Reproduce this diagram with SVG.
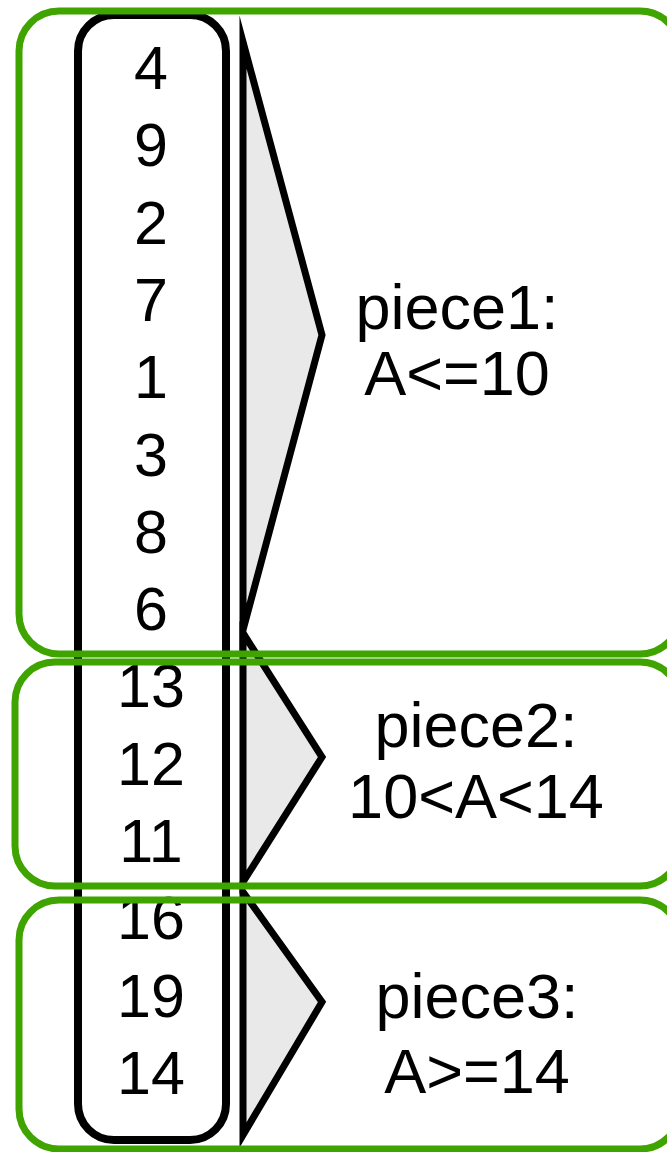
<svg xmlns="http://www.w3.org/2000/svg" width="667" height="1152" viewBox="0 0 667 1152">
  <style>
    .col { fill: #ffffff; stroke: #000000; stroke-width: 8; }
    .piece { fill: none; stroke: #3fa300; stroke-width: 7; }
    .brace { fill: #e9e9e9; stroke: #000000; stroke-width: 7; stroke-linejoin: miter; stroke-miterlimit: 20; }
    .num { font-family: "Liberation Sans", Arial, sans-serif; font-size: 61px; fill: #000000; text-anchor: middle; }
    .lbl { font-family: "Liberation Sans", Arial, sans-serif; font-size: 63px; fill: #000000; text-anchor: middle; }
  </style>

  <!-- column of values -->
  <g id="column">
    <rect class="col" x="78" y="15" width="148" height="1125" rx="36" ry="36"/>
    <text class="num" x="151" y="89">4</text>
    <text class="num" x="151" y="166.3">9</text>
    <text class="num" x="151" y="243.6">2</text>
    <text class="num" x="151" y="320.9">7</text>
    <text class="num" x="151" y="398.2">1</text>
    <text class="num" x="151" y="475.5">3</text>
    <text class="num" x="151" y="552.8">8</text>
    <text class="num" x="151" y="630.1">6</text>
    <text class="num" x="151" y="707.4">13</text>
    <text class="num" x="151" y="784.7">12</text>
    <text class="num" x="151" y="862">11</text>
    <text class="num" x="151" y="939.3">16</text>
    <text class="num" x="151" y="1016.6">19</text>
    <text class="num" x="151" y="1093.9">14</text>
  </g>

  <!-- braces grouping the values -->
  <g id="connectors">
    <polygon class="brace" points="243,42 322,335 243,630"/>
    <polygon class="brace" points="243,633 322,757 243,882"/>
    <polygon class="brace" points="243,892 322,1002 243,1135"/>
  </g>

  <!-- piece 1 -->
  <g id="piece1">
    <rect class="piece" x="19" y="11" width="661" height="643" rx="40" ry="40"/>
    <text class="lbl" x="457" y="329">piece1:</text>
    <text class="lbl" x="457" y="395">A&lt;=10</text>
  </g>

  <!-- piece 2 -->
  <g id="piece2">
    <rect class="piece" x="15" y="662" width="665" height="224" rx="40" ry="40"/>
    <text class="lbl" x="476" y="747">piece2:</text>
    <text class="lbl" x="476" y="818">10&lt;A&lt;14</text>
  </g>

  <!-- piece 3 -->
  <g id="piece3">
    <rect class="piece" x="19" y="900" width="661" height="249" rx="40" ry="40"/>
    <text class="lbl" x="477" y="1018">piece3:</text>
    <text class="lbl" x="477" y="1093">A&gt;=14</text>
  </g>
</svg>
